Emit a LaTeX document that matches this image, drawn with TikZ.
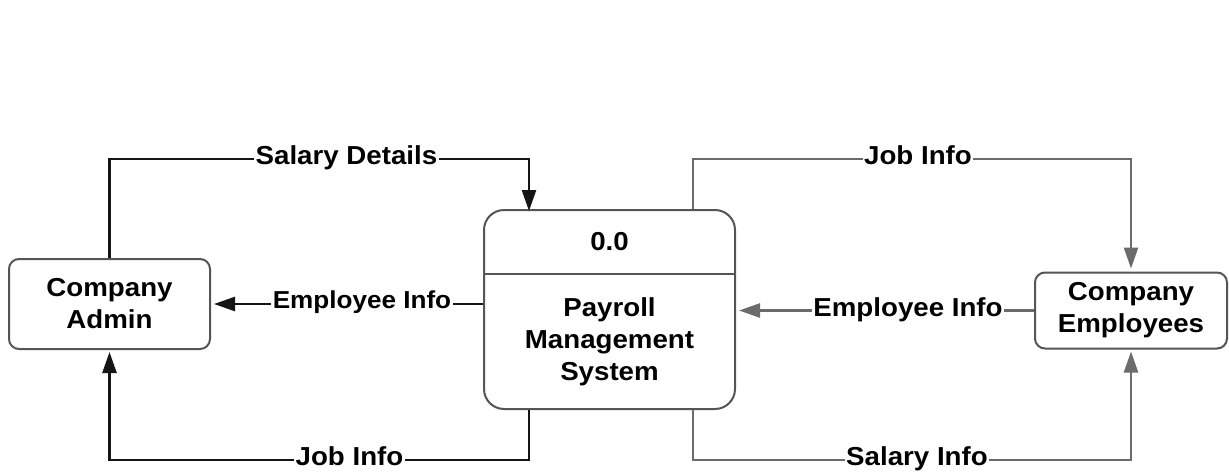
\documentclass[tikz,border=0pt]{standalone}
\usepackage{fontspec}
\setmainfont[FakeStretch=1.065]{Liberation Sans}
\usetikzlibrary{arrows.meta,calc}
\definecolor{boxline}{HTML}{555555}
\definecolor{darkline}{HTML}{151515}
\definecolor{greyline}{HTML}{6B6B6B}
\tikzset{
  entity/.style={draw=boxline, line width=2pt, rounded corners=10pt, fill=white,
    align=center, font={\fontsize{26}{32}\selectfont\bfseries}, inner sep=0pt},
  procbox/.style={draw=boxline, line width=2pt, rounded corners=20pt, fill=white,
    minimum width=251pt, minimum height=199pt, inner sep=0pt},
  txt/.style={align=center, font={\fontsize{26}{32}\selectfont\bfseries}, inner sep=0pt},
  lbl/.style={fill=white, anchor=base, inner xsep=1.5pt, inner ysep=1pt, font={\fontsize{26}{30}\selectfont\bfseries}},
  lbls/.style={lbl, font={\fontsize{24.5}{28}\selectfont\bfseries}},
  blackflow/.style={draw=darkline, line width=2.5pt, -{Triangle[length=21pt,width=14pt]}},
  greyflow/.style={draw=greyline, line width=2.5pt, -{Triangle[length=21pt,width=14pt]}},
}
\begin{document}
\begin{tikzpicture}[x=1pt,y=-1pt]
\useasboundingbox[fill=white] (0,0) rectangle (1229,474);
% nodes
\node[entity, minimum width=201pt, minimum height=90pt] (admin) at (109.5,304) {Company\\Admin};
\node[procbox] (proc) at (609.5,309.5) {};
\node[entity, minimum width=192pt, minimum height=76pt] (emp) at (1131,310.5) {Company\\Employees};
\coordinate (div) at (609.5,274);
\draw[draw=boxline, line width=2pt] (proc.west |- div) -- (proc.east |- div);
\node[txt] (pid) at (609.5,241.5) {0.0};
\node[txt] (pname) at (609.5,341.5) {Payroll\\Management\\System};
% helper coordinates
\coordinate (cL) at (529,159);
\coordinate (cR) at (693,159);
\coordinate (bL) at (529,460);
\coordinate (bR) at (693,460);
% left flows
\draw[blackflow] (admin.north) |- (cL) -- ([yshift=-2pt]proc.north -| cL);
\draw[blackflow, shorten >=3pt] (proc.west |- admin.east) -- (admin.east);
\draw[blackflow, shorten >=2pt] (proc.south -| bL) |- (admin.south |- bL) -- (admin.south);
% right flows
\draw[greyflow, shorten >=3pt] (proc.north -| cR) |- (emp.north |- cR) -- (emp.north);
\draw[greyflow, shorten >=3pt] (emp.west) -- (proc.east |- emp.west);
\draw[greyflow, shorten >=2pt] (proc.south -| bR) |- (emp.south |- bR) -- (emp.south);
% labels
\node[lbl] (l1) at (346.5,164) {Salary Details};
\node[lbls] (l2) at (362,308.5) {Employee Info};
\node[lbl] (l3) at (349.5,465.5) {Job Info};
\node[lbl] (l4) at (918,164) {Job Info};
\node[lbl] (l5) at (908,316) {Employee Info};
\node[lbl] (l6) at (917,465.5) {Salary Info};
\end{tikzpicture}
\end{document}
